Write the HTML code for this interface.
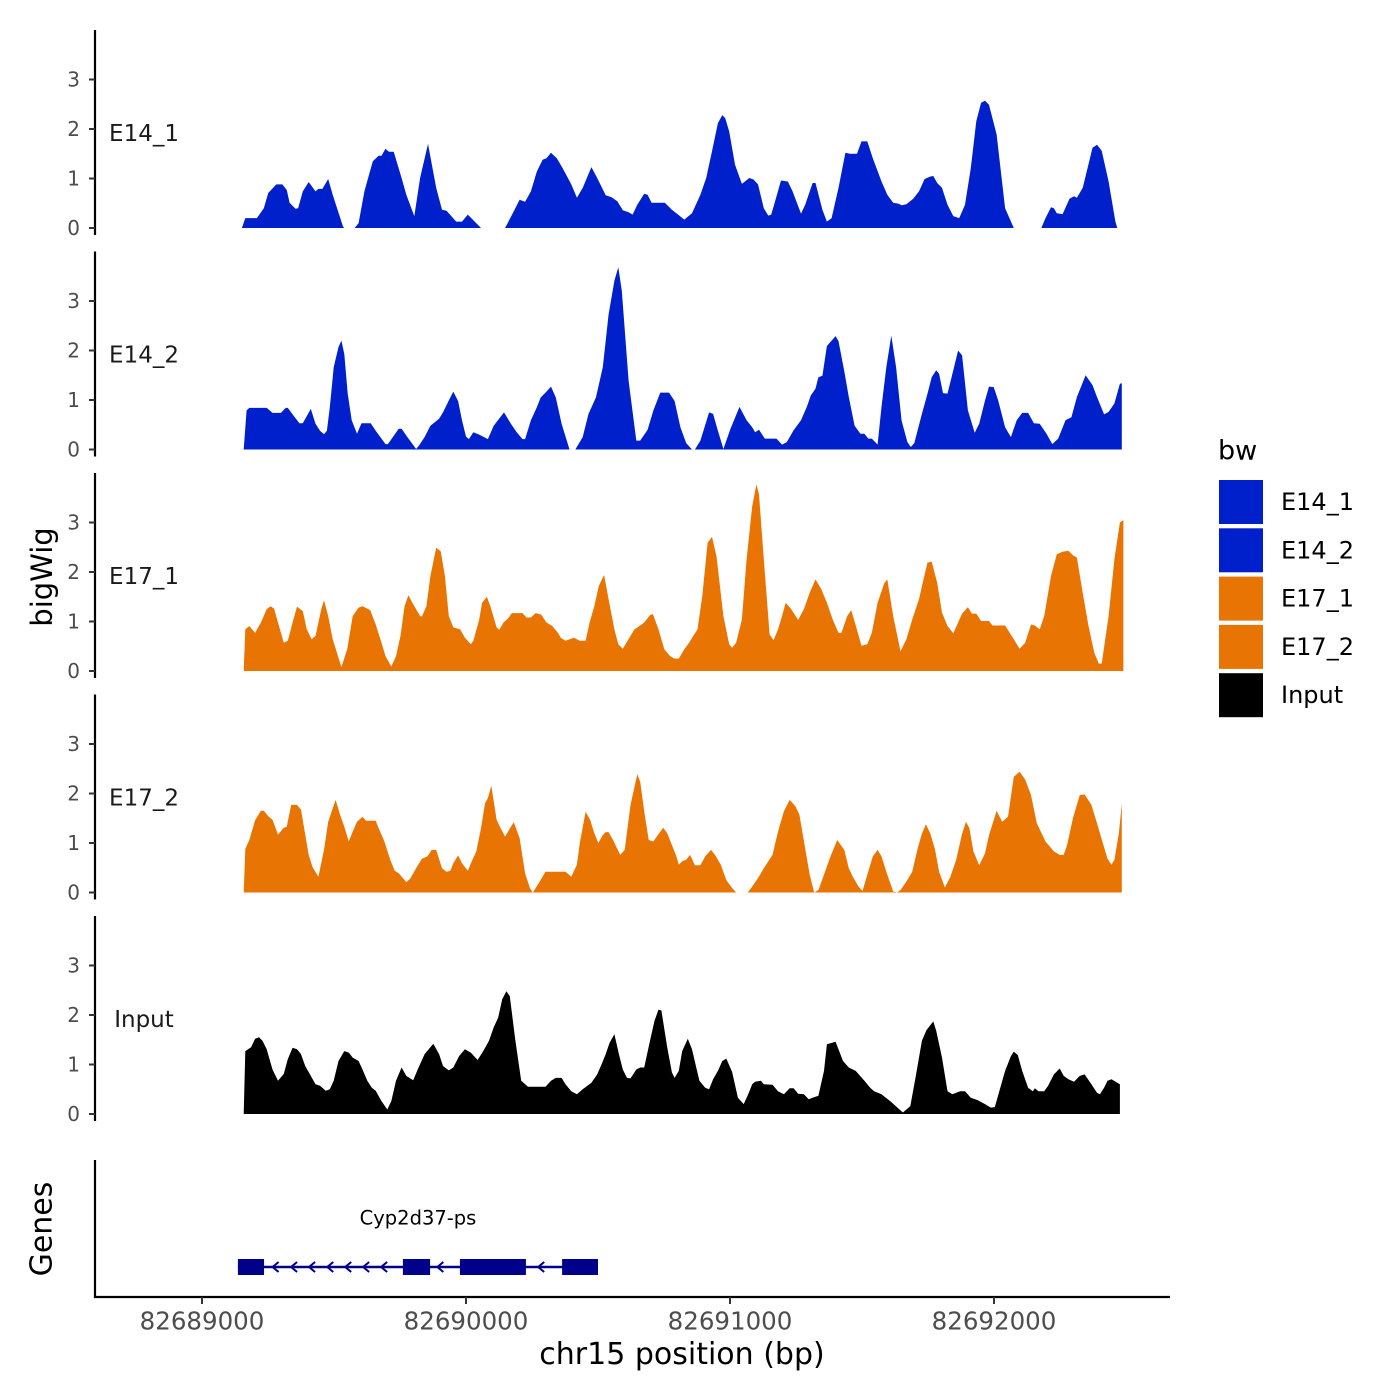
<!DOCTYPE html>
<html><head><meta charset="utf-8"><style>
html,body{margin:0;padding:0;background:#fff;}
svg{display:block;font-family:"DejaVu Sans","Liberation Sans",sans-serif;}
</style></head><body>
<svg id="chart" width="1400" height="1400" viewBox="0 0 1400 1400">
<rect x="0" y="0" width="1400" height="1400" fill="#fff"/>
<g id="panels"></g>
<g id="genes"></g>
<g id="xaxis"></g>
<text x="42" y="577" transform="rotate(-90 42 577)" text-anchor="middle" dominant-baseline="central" font-size="29" fill="#000">bigWig</text>
<text x="42" y="1229" transform="rotate(-90 42 1229)" text-anchor="middle" dominant-baseline="central" font-size="30" fill="#000">Genes</text>
<text x="682" y="1364" text-anchor="middle" font-size="30" fill="#000">chr15 position (bp)</text>
<g id="legend"></g>
</svg>
<script>
const START = 82689000;
const trackNames = ["E14_1","E14_2","E17_1","E17_2","Input"];
const trackColors = ["#0020CC","#0020CC","#E87503","#E87503","#000000"];
const yTicks = [0,1,2,3];
const xTicks = [82689000,82690000,82691000,82692000];
const geneName = "Cyp2d37-ps";
const geneStart = 136, geneEnd = 1500;
const exonStarts = [136,761,977,1364];
const exonEnds = [235,864,1227,1500];
const intronArrows = [275,345,413,482,550,618,686,899,1281];

const e14_1_pos = [151,164,208,234,251,282,304,321,332,354,364,382,404,430,441,456,478,495,534,539,null,578,593,615,647,669,680,695,708,726,756,774,804,826,856,887,909,926,963,985,1007,1057,null,1148,1181,1203,1224,1246,1268,1290,1305,1322,1344,1366,1399,1420,1442,1475,1497,1529,1551,1573,1594,1616,1631,1649,1675,1688,1703,1753,1780,1801,1827,1856,1888,1910,1932,1954,1971,1982,1997,2019,2045,2073,2089,2106,2128,2145,2156,2171,2193,2219,2237,2269,2285,2313,2324,2350,2367,2385,2411,2437,2454,2481,2498,2520,2541,2574,2596,2618,2639,2650,2668,2694,2716,2737,2759,2770,2785,2803,2824,2846,2868,2890,2912,2933,2951,2966,2981,3010,3042,3075,null,3179,3195,3216,3227,3238,3260,3286,3303,3314,3336,3351,3373,3390,3408,3434,3460,3467];
const e14_1_val = [0,.20,.20,.40,.71,.88,.88,.77,.51,.39,.40,.74,.93,.74,.79,.79,.99,.67,.03,0,null,0,.10,.74,1.35,1.46,1.46,1.60,1.54,1.54,1.01,.67,.24,1.01,1.70,.81,.37,.35,.13,.13,.27,0,null,0,.34,.57,.53,.74,1.14,1.38,1.41,1.52,1.41,1.21,.88,.61,.81,1.23,1.01,.66,.62,.54,.36,.32,.27,.47,.69,.67,.51,.51,.37,.28,.17,.30,.67,1.01,1.55,2.12,2.28,2.22,1.95,1.28,.89,1.01,.98,.88,.40,.25,.27,.54,.96,.94,.74,.29,.47,.91,.91,.37,.13,.20,.81,1.52,1.50,1.50,1.75,1.75,1.41,.94,.67,.51,.49,.46,.48,.59,.74,.99,1.04,1.05,.91,.81,.47,.24,.20,.47,1.21,2.16,2.53,2.57,2.49,1.89,.40,0,null,0,.20,.42,.40,.30,.28,.59,.64,.61,.81,1.14,1.62,1.68,1.56,.94,.13,0];

const e14_2_pos = [158,169,179,245,267,299,317,325,343,369,382,412,430,447,462,473,484,499,517,528,539,552,567,587,604,639,658,695,704,745,756,778,811,822,843,865,898,913,935,952,970,985,1000,1011,1028,1050,1083,1105,1144,1170,1192,1214,1224,1246,1268,1283,1301,1322,1340,1362,1392,null,1414,1442,1464,1492,1518,1540,1562,1577,1590,1616,1645,1660,1688,1710,1736,1769,1790,1812,1834,1856,null,1867,1888,1921,1936,1954,1975,2002,2036,2063,2084,2095,2110,2132,2176,2197,2215,2241,2269,2291,2306,2324,2335,2350,2367,2400,2411,2433,2450,2472,2494,2509,2524,2537,2559,2574,2592,2611,2629,2650,2672,2685,2698,2727,2748,2764,2781,2792,2807,2824,2846,2864,2879,2901,2927,2944,2966,2981,2999,3016,3042,3064,3086,3107,3129,3151,3173,3199,3221,3243,3271,3293,3314,3347,3373,3390,3417,3434,3456,3477,3484];
const e14_2_val = [0,.79,.84,.84,.74,.74,.84,.84,.71,.53,.53,.82,.52,.38,.31,.38,.85,1.66,2.07,2.20,1.93,1.13,.59,.32,.53,.53,.38,.11,.11,.42,.42,.25,.01,.08,.25,.48,.62,.75,.99,1.17,.98,.59,.26,.21,.35,.30,.21,.48,.75,.52,.35,.21,.21,.59,.85,1.05,1.15,1.27,1.05,.52,0,null,0,.25,.72,1.05,1.66,2.73,3.41,3.68,3.21,1.39,.18,.18,.40,.79,1.15,1.15,.98,.45,.13,0,null,0,.18,.75,.72,.38,.01,.42,.86,.59,.45,.35,.40,.22,.22,.10,.15,.39,.59,.86,1.09,1.23,1.46,1.49,2.09,2.29,2.19,1.58,1.06,.48,.32,.32,.22,.22,.10,.86,1.66,2.30,1.66,.58,.15,.05,.13,.72,1.13,1.46,1.60,1.53,1.14,1.13,1.60,2.00,1.90,.79,.34,.52,.99,1.27,1.26,.99,.45,.25,.59,.74,.74,.53,.52,.32,.11,.22,.59,.65,1.06,1.50,1.30,1.06,.71,.76,.93,1.33,1.34];

const e17_1_pos = [158,164,179,201,223,245,260,273,288,310,325,343,360,382,397,415,430,452,462,478,495,528,550,571,593,608,637,658,680,695,717,735,752,767,782,800,826,833,850,865,887,904,920,935,952,978,996,1018,1028,1050,1061,1079,1094,1116,1126,1142,1159,1174,1214,1229,1246,1264,1285,1305,1327,1348,1359,1377,1409,1431,1453,1468,1486,1503,1523,1540,1562,1577,1594,1612,1638,1660,1675,1697,1708,1729,1751,1773,1790,1806,1827,1845,1862,1877,1895,1915,1932,1949,1975,1997,2008,2023,2045,2063,2084,2100,2110,2128,2150,2165,2182,2197,2211,2232,2258,2280,2302,2324,2346,2367,2389,2411,2422,2444,2459,2477,2498,2520,2537,2559,2585,2596,2618,2646,2668,2690,2716,2733,2748,2764,2785,2803,2824,2846,2864,2879,2901,2916,2933,2951,2981,2994,3042,3075,3097,3118,3140,3155,3173,3190,3216,3238,3260,3282,3299,3314,3336,3358,3380,3397,3408,3434,3456,3477,3490];
const e17_1_val = [0,.84,.91,.77,.98,1.25,1.31,1.26,.98,.57,.61,.98,1.30,1.21,.84,.64,.71,1.25,1.43,1.11,.64,.08,.44,1.11,1.28,1.31,1.23,.94,.57,.30,.09,.30,.71,1.31,1.53,1.35,1.11,1.10,1.31,1.92,2.49,2.42,1.92,1.11,.88,.84,.67,.54,.61,1.04,1.38,1.50,1.28,.88,.83,.98,1.06,1.17,1.17,1.08,1.08,1.17,1.14,.98,.91,.77,.67,.61,.67,.61,.61,.98,1.31,1.72,1.94,1.45,.84,.54,.45,.61,.84,.92,.98,1.13,1.15,.84,.44,.30,.25,.25,.44,.57,.72,.84,1.52,2.59,2.71,2.32,1.11,.54,.47,.57,1.04,2.26,3.33,3.77,3.57,2.26,.74,.62,.84,1.11,1.38,1.25,1.03,1.25,1.58,1.85,1.65,1.38,1.04,.77,.77,1.11,1.23,.91,.51,.54,.77,1.38,1.78,1.85,1.11,.40,.64,1.04,1.45,1.85,2.19,2.21,1.78,1.18,.91,.76,.98,1.16,1.29,1.16,1.16,1.01,1.01,.92,.92,.64,.45,.57,.94,.92,.84,1.11,1.92,2.36,2.41,2.43,2.34,2.29,1.58,.91,.37,.15,.15,1.11,2.26,3.00,3.05];

const e17_2_pos = [158,164,179,201,223,234,251,267,288,310,321,338,360,375,404,419,441,462,478,506,523,539,556,571,587,608,621,658,669,691,713,730,745,761,774,789,811,833,854,870,887,909,926,941,952,970,985,1007,1022,1039,1057,1072,1083,1096,1116,1131,1148,1170,1181,1203,1224,1242,1253,null,1253,1279,1301,1377,1399,1420,1431,1453,1470,1486,1501,1518,1529,1540,1557,1573,1584,1601,1623,1649,1660,1675,1692,1710,1725,1747,1762,1780,1797,1806,1819,1834,1849,1867,1888,1906,1928,1943,1965,1986,2008,2023,null,2067,2084,2106,2128,2161,2182,2204,2226,2248,2263,2276,2302,2319,2335,2356,2378,2406,2433,2450,2465,2487,2502,2520,2541,2559,2574,2596,2618,2633,2646,2668,2690,2711,2727,2742,2759,2777,2792,2814,2835,2857,2879,2894,2907,2922,2944,2966,2981,2999,3010,3031,3053,3075,3097,3118,3140,3162,3195,3227,3249,3264,3277,3299,3325,3343,3369,3390,3412,3430,3445,3456,3473,3484];
const e17_2_val = [0,.88,1.06,1.46,1.65,1.65,1.54,1.47,1.17,1.31,1.33,1.77,1.77,1.67,.76,.51,.32,.86,1.43,1.87,1.57,1.33,1.03,1.23,1.43,1.53,1.45,1.45,1.30,1.03,.66,.44,.39,.29,.21,.28,.49,.68,.73,.86,.86,.49,.42,.44,.59,.75,.59,.44,.63,.83,1.30,1.80,1.91,2.16,1.47,1.30,1.13,1.33,1.42,1.10,.39,.09,0,null,0,.22,.42,.42,.32,.56,1.00,1.63,1.47,1.20,1.00,1.16,1.22,1.22,1.06,.88,.76,.86,1.77,2.39,2.24,1.64,1.06,1.03,1.15,1.31,1.20,.96,.73,.56,.63,.66,.76,.55,.55,.73,.86,.76,.56,.25,.09,0,null,0,.12,.29,.49,.76,1.23,1.64,1.87,1.74,1.57,1.16,.36,0,.05,.36,.69,1.06,.86,.49,.32,.12,.03,.36,.73,.86,.73,.36,.02,0,.05,.22,.42,.89,1.19,1.38,1.19,.86,.42,.10,.32,.66,1.19,1.43,1.30,.83,.55,.79,1.16,1.46,1.65,1.43,1.53,2.34,2.44,2.28,1.97,1.40,1.03,.83,.76,.76,.96,1.50,1.97,1.98,1.77,1.40,1.00,.68,.56,.66,1.20,1.80];

const input_pos = [158,164,186,201,216,229,245,267,288,310,325,343,360,375,391,412,430,447,469,484,499,517,539,556,571,593,608,626,643,658,680,702,717,735,756,774,800,817,843,876,898,913,935,952,974,996,1018,1044,1065,1087,1105,1122,1137,1153,1166,1187,1209,1235,1301,1322,1340,1362,1377,1399,1420,1442,1475,1497,1514,1529,1544,1562,1579,1594,1610,1623,1645,1660,1675,1697,1714,1729,1740,1762,1780,1790,1806,1819,1840,1856,1871,1884,1906,1921,1936,1954,1971,1986,2008,2030,2052,2069,2084,2095,2117,2128,2161,2182,2204,2226,2241,2258,2280,2298,2313,2335,2356,2367,2400,2428,2450,2476,2509,2531,2546,2574,2607,2655,2683,2705,2727,2744,2770,2781,2803,2824,2842,2872,2890,2912,2938,2966,2988,3003,3020,3042,3064,3075,3090,3107,3129,3147,3155,3168,3190,3205,3227,3249,3264,3282,3303,3325,3343,3365,3390,3401,3417,3430,3445,3467,3477];
const input_val = [0,1.27,1.35,1.52,1.55,1.48,1.31,.90,.67,.81,1.11,1.34,1.31,1.21,.97,.77,.60,.57,.47,.50,.67,1.07,1.27,1.24,1.14,1.07,.90,.67,.53,.47,.26,.09,.26,.67,.94,.77,.68,.90,1.21,1.42,1.21,.97,.88,.94,1.17,1.31,1.24,1.09,1.27,1.48,1.75,1.95,2.32,2.48,2.38,1.48,.67,.55,.55,.67,.73,.73,.60,.46,.40,.50,.63,.80,1.01,1.21,1.44,1.61,1.21,.90,.73,.72,.90,.94,.94,1.48,1.88,2.11,2.09,1.35,.84,.73,.87,1.27,1.52,1.31,.97,.67,.53,.50,.70,.87,1.07,1.12,.85,.33,.20,.40,.60,.65,.67,.60,.59,.46,.40,.52,.52,.41,.40,.30,.33,.37,.87,1.41,1.46,1.07,.94,.87,.67,.53,.46,.40,.26,.03,.16,.80,1.48,1.69,1.87,1.68,1.14,.46,.40,.46,.46,.33,.28,.20,.13,.14,.46,.87,1.17,1.26,1.19,.87,.53,.46,.52,.46,.46,.57,.80,.92,.77,.70,.65,.77,.80,.63,.43,.40,.53,.67,.70,.63,.60];

const allPos = [e14_1_pos,e14_2_pos,e17_1_pos,e17_2_pos,input_pos];
const allVal = [e14_1_val,e14_2_val,e17_1_val,e17_2_val,input_val];

const NS = "http://www.w3.org/2000/svg";
function mk(tag, attrs, parent){const e=document.createElementNS(NS,tag);for(const k in attrs)e.setAttribute(k,attrs[k]);parent.appendChild(e);return e;}
function xScale(offset){return 202 + offset*0.264;}
function xGenomic(bp){return xScale(bp-START);}
const PANEL_ZERO = [228,449.5,671,892.5,1114];
const UNIT = 49.5;
function yScale(panel,v){return PANEL_ZERO[panel]-v*UNIT;}

const panels = document.getElementById('panels');
for(let p=0;p<5;p++){
  const g = mk('g',{},panels);
  
  
  const z = PANEL_ZERO[p];
  const ax = mk('line',{x1:95,x2:95,y1:z-198,y2:z+7,stroke:'#000','stroke-width':2.2},g);
  
  
  yTicks.forEach(t=>{
    const y=yScale(p,t);
    const tk=mk('line',{x1:89,x2:95,y1:y,y2:y,stroke:'#333','stroke-width':2},g);
    
    
    const tl=mk('text',{x:80,y:y,'text-anchor':'end','dominant-baseline':'central','font-size':20,fill:'#4D4D4D'},g);
    tl.textContent=t;
    
    
  });
  const lab=mk('text',{x:144,y:z-94,'text-anchor':'middle','dominant-baseline':'central','font-size':23,fill:'#1a1a1a'},g);
  lab.textContent=trackNames[p];
  
  
  const pos=allPos[p], val=allVal[p];
  let seg=[];
  const segs=[];
  for(let i=0;i<pos.length;i++){
    if(pos[i]===null){ if(seg.length) segs.push(seg); seg=[]; continue; }
    seg.push([pos[i],val[i]]);
  }
  if(seg.length) segs.push(seg);
  segs.forEach(s=>{
    let d='M'+xScale(s[0][0]).toFixed(1)+','+z;
    s.forEach(pt=>{d+='L'+xScale(pt[0]).toFixed(1)+','+yScale(p,pt[1]).toFixed(1);});
    d+='L'+xScale(s[s.length-1][0]).toFixed(1)+','+z+'Z';
    const a=mk('path',{d:d,fill:trackColors[p]},g);
    
    
  });
}

const gg=document.getElementById('genes');
const ga=mk('line',{x1:95,x2:95,y1:1160,y2:1298,stroke:'#000','stroke-width':2.2},gg);


const gl=mk('line',{x1:xScale(geneStart),x2:xScale(geneEnd),y1:1267,y2:1267,stroke:'#00008B','stroke-width':2.5},gg);


intronArrows.forEach(o=>{
  const x=xScale(o);
  const ar=mk('path',{d:`M${x+4},${1262}L${x-2},${1267}L${x+4},${1272}`,stroke:'#00008B','stroke-width':2,fill:'none'},gg);
  
  
});
for(let i=0;i<exonStarts.length;i++){
  const r=mk('rect',{x:xScale(exonStarts[i]),y:1259,width:xScale(exonEnds[i])-xScale(exonStarts[i]),height:16,fill:'#00008B'},gg);
  
  
}
const gn=mk('text',{x:418,y:1218,'text-anchor':'middle','dominant-baseline':'central','font-size':19.5,fill:'#000'},gg);
gn.textContent=geneName;



const xa=document.getElementById('xaxis');
const xl=mk('line',{x1:94,x2:1170,y1:1297,y2:1297,stroke:'#000','stroke-width':2.2},xa);


xTicks.forEach(t=>{
  const x=xGenomic(t);
  const tk=mk('line',{x1:x,x2:x,y1:1297,y2:1304,stroke:'#333','stroke-width':2},xa);
  
  
  const tl=mk('text',{x:x,y:1321,'text-anchor':'middle','dominant-baseline':'central','font-size':24.5,fill:'#4D4D4D'},xa);
  tl.textContent=t;
  
  
});

const lg=document.getElementById('legend');
const lt=mk('text',{x:1218,y:451,'dominant-baseline':'central','font-size':27,fill:'#000'},lg);
lt.textContent='bw';


trackNames.forEach((n,i)=>{
  const y=480+i*48.3;
  const k=mk('rect',{x:1219,y:y,width:44,height:44,fill:trackColors[i]},lg);
  
  
  const t=mk('text',{x:1281,y:y+22,'dominant-baseline':'central','font-size':24,fill:'#000'},lg);
  t.textContent=n;
  
  
});
</script>
</body></html>
